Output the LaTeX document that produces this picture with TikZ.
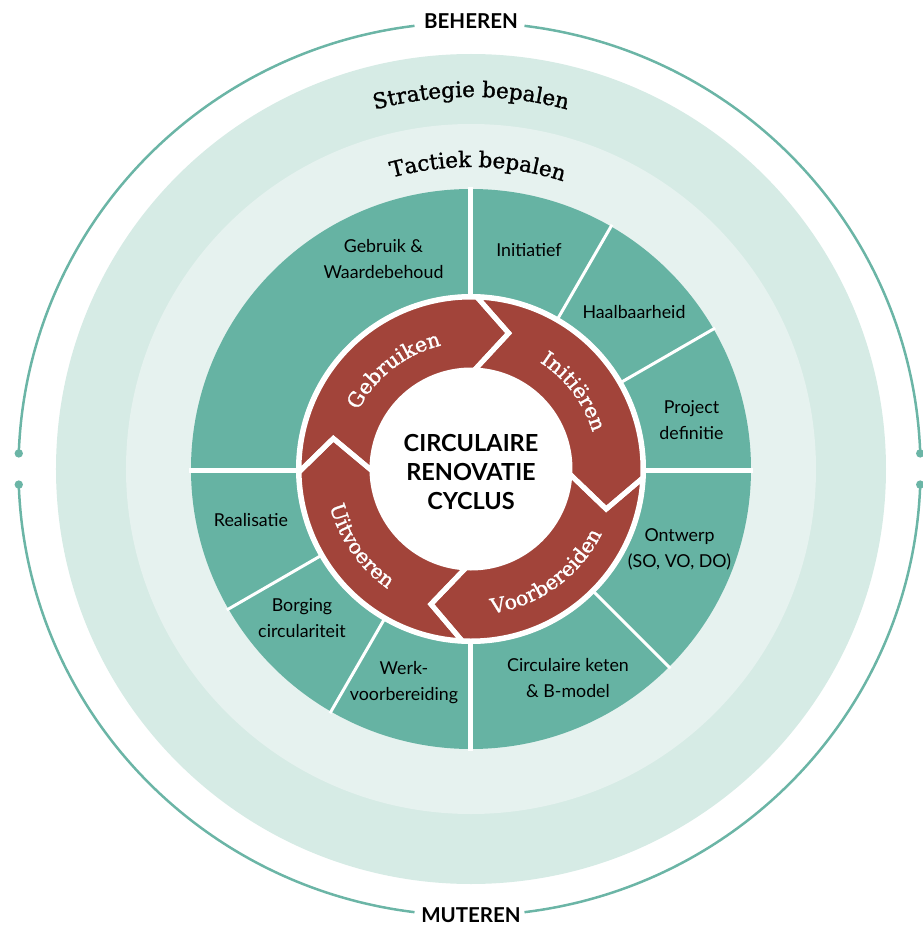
\documentclass[tikz,border=0pt]{standalone}
\usepackage{fontspec}
\setmainfont{Lato}
\newfontfamily\serifring[FakeBold=1.2]{DejaVu Serif}
\usetikzlibrary{decorations.text}
\definecolor{sectgreen}{HTML}{66B3A3}
\definecolor{ringred}{HTML}{A2443A}
\definecolor{bandA}{HTML}{D6EBE5}
\definecolor{bandB}{HTML}{E6F2EF}
\definecolor{linegreen}{HTML}{6BB5A6}
\tikzset{
  lbl/.style={text=black, align=center, font=\fontsize{17.8}{26}\selectfont, inner sep=0pt},
  caplbl/.style={text=black, align=center, font=\bfseries\fontsize{23.5}{29}\selectfont, inner sep=0pt},
  ringlbl/.style={text=black, font=\bfseries\fontsize{20.5}{23}\selectfont, inner sep=0pt},
  sep/.style={white, line width=5pt},
  thinsep/.style={white, line width=3pt},
  outerline/.style={linegreen, line width=2.5pt},
  curvetext/.style={decorate, decoration={text along path, text align=center, text={#1}}},
}
\begin{document}
\begin{tikzpicture}[x=1pt,y=1pt]
\useasboundingbox (-471,-458) rectangle (452,469);
% bands
\fill[bandA] (0,0) circle (415);
\fill[bandB] (0,0) circle (345);
\fill[sectgreen] (0,0) circle (280);
% sector separators
\draw[sep] (-282,-1) -- (282,-1);
\draw[sep] (0,-282) -- (0,282);
\foreach \a in {30,60,-45,210,240} \draw[thinsep] (0,0) -- (\a:282);
\fill[white] (0,0) circle (175);
% red chevron ring
\foreach \A/\B in {181/88, 88/-3, -3/-93, 267/181}
  \fill[ringred] (\A:172) arc[start angle=\A, end angle=\B, radius=172] -- ({\B-13.5}:141) -- (\B:99) arc[start angle=\B, end angle=\A, radius=99] -- ({\A-13.5}:141) -- cycle;
\foreach \A/\B in {181/88, 88/-3, -3/-93, 267/181}
  \draw[white, line width=5pt, line join=miter] (\A:172) arc[start angle=\A, end angle=\B, radius=172] -- ({\B-13.5}:141) -- (\B:99) arc[start angle=\B, end angle=\A, radius=99] -- ({\A-13.5}:141) -- cycle;
% ring texts
\path[curvetext={|\serifring\fontsize{20.5}{24}\selectfont|Gebruiken}, decoration={text color=white}] (178:127) arc[start angle=178, end angle=78, radius=127];
\path[curvetext={|\serifring\fontsize{20.5}{24}\selectfont|Initiëren}, decoration={text color=white}] (87:127) arc[start angle=87, end angle=-13, radius=127];
\path[curvetext={|\serifring\fontsize{20.5}{24}\selectfont|Voorbereiden}, decoration={text color=white}] (256:146) arc[start angle=256, end angle=356, radius=146];
\path[curvetext={|\serifring\fontsize{20.5}{24}\selectfont|Uitvoeren}, decoration={text color=white}] (165:146) arc[start angle=165, end angle=265, radius=146];
% band texts
\path[curvetext={|\serifring\fontsize{21.5}{26}\selectfont|Strategie bepalen}] (150:372) arc[start angle=150, end angle=30, radius=372];
\path[curvetext={|\serifring\fontsize{21.5}{26}\selectfont|Tactiek bepalen}] (148.7:302) arc[start angle=148.7, end angle=28.7, radius=302];
% centre
\node[caplbl] (centre) at (0,-3) {CIRCULAIRE\\RENOVATIE\\CYCLUS};
% sector labels
\node[lbl] (gebruik) at (-87.5,210) {Gebruik \&\\Waardebehoud};
\node[lbl] (initiatief) at (58,219) {Initiatief};
\node[lbl] (haalbaar) at (163,156.5) {Haalbaarheid};
\node[lbl] (project) at (220.5,49) {Project\\definitie};
\node[lbl] (ontwerp) at (208.5,-80) {Ontwerp\\(SO, VO, DO)};
\node[lbl] (keten) at (97,-209.5) {Circulaire keten\\\& B-model};
\node[lbl] (werk) at (-67,-214) {Werk-\\voorbereiding};
\node[lbl] (borging) at (-169,-149) {Borging\\circulariteit};
\node[lbl] (realisatie) at (-220,-51) {Realisatie};
% outer circle
\begin{scope}[shift={(-1.5,0)}]
\draw[outerline] (97:451 and 446.5) arc[start angle=97, end angle=178, x radius=451, y radius=446.5];
\draw[outerline] (182:451 and 446.5) arc[start angle=182, end angle=263, x radius=451, y radius=446.5];
\draw[outerline] (277:451 and 446.5) arc[start angle=277, end angle=358, x radius=451, y radius=446.5];
\draw[outerline] (2:451 and 446.5) arc[start angle=2, end angle=83, x radius=451, y radius=446.5];
\coordinate (dotA) at (178:451 and 446.5);
\coordinate (dotB) at (182:451 and 446.5);
\coordinate (dotC) at (358:451 and 446.5);
\coordinate (dotD) at (2:451 and 446.5);
\foreach \d in {dotA,dotB,dotC,dotD} \fill[linegreen] (\d) circle (4.2);
\end{scope}
\node[ringlbl] (beheren) at (0,448) {BEHEREN};
\node[ringlbl] (muteren) at (0,-446.5) {MUTEREN};
\end{tikzpicture}
\end{document}
